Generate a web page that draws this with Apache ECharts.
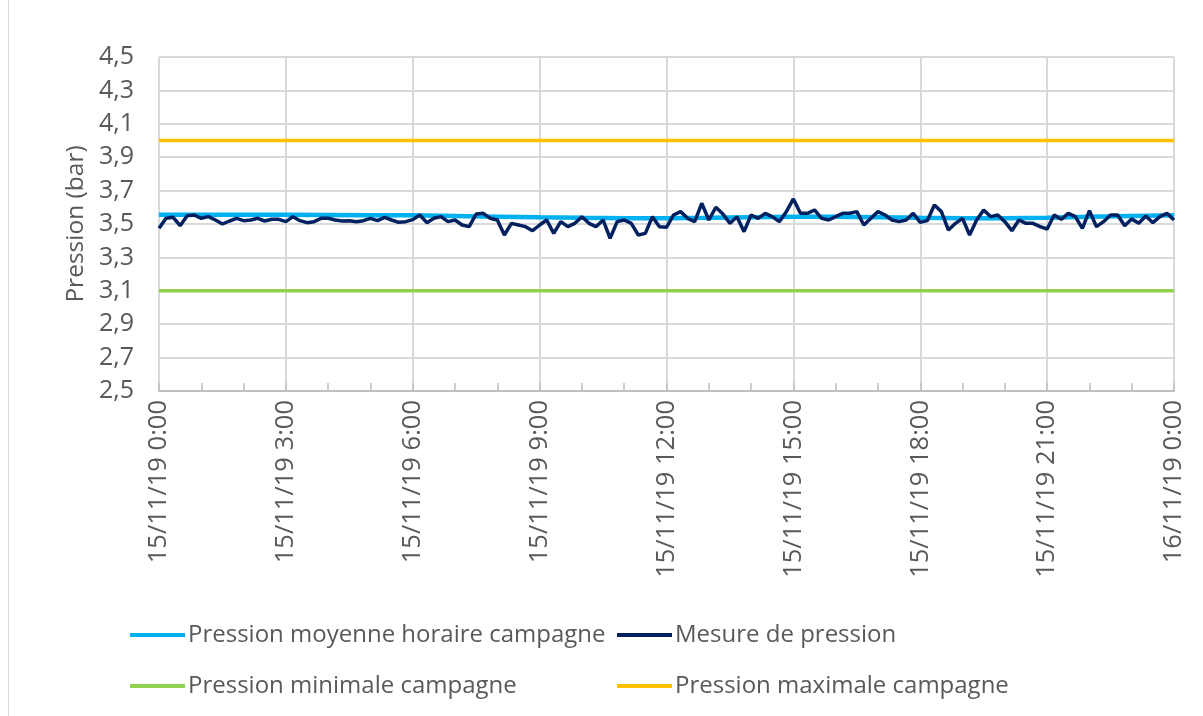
<!DOCTYPE html>
<html><head><meta charset="utf-8">
<script src="https://cdn.jsdelivr.net/npm/echarts@6/dist/echarts.min.js"></script>
<style>html,body{margin:0;padding:0;background:#fff}#c{width:1203px;height:716px}</style>
</head><body><div id="c"></div>
<script>
// Sampling: one measurement every 10 minutes from 15/11/19 0:00 to 16/11/19 0:00
const stepMinutes = 10;
const mesure = [
 3.474,3.534,3.54,3.49,3.55,3.554,3.534,3.544,3.524,3.50,
 3.518,3.534,3.52,3.524,3.534,3.518,3.528,3.528,3.514,3.544,
 3.52,3.508,3.514,3.534,3.534,3.524,3.518,3.52,3.514,3.52,
 3.534,3.52,3.54,3.524,3.51,3.514,3.526,3.554,3.508,3.534,
 3.544,3.514,3.524,3.494,3.484,3.56,3.564,3.534,3.524,3.434,
 3.504,3.494,3.484,3.46,3.494,3.524,3.444,3.514,3.484,3.504,
 3.544,3.504,3.484,3.524,3.414,3.514,3.524,3.504,3.434,3.444,
 3.544,3.484,3.48,3.554,3.574,3.534,3.514,3.624,3.524,3.60,
 3.56,3.504,3.544,3.454,3.554,3.534,3.564,3.544,3.514,3.574,
 3.65,3.564,3.564,3.584,3.534,3.524,3.544,3.564,3.564,3.574,
 3.494,3.534,3.574,3.554,3.524,3.514,3.524,3.564,3.51,3.52,
 3.614,3.574,3.464,3.504,3.534,3.434,3.524,3.584,3.544,3.554,
 3.514,3.46,3.524,3.504,3.504,3.484,3.47,3.554,3.528,3.564,
 3.544,3.474,3.58,3.484,3.514,3.554,3.554,3.49,3.53,3.504,
 3.548,3.508,3.544,3.564,3.524
];
// Hourly mean (0h .. 24h)
const moyenneHoraire = [
 3.556,3.556,3.555,3.555,3.554,3.553,3.552,3.548,3.544,3.54,
 3.537,3.535,3.535,3.537,3.54,3.543,3.543,3.54,3.537,3.535,
 3.535,3.538,3.543,3.548,3.553
];
const pressionMinimale = 3.1;
const pressionMaximale = 4.0;
const xStartHour = 0, xEndHour = 24, xLabelStepHours = 3;
const yMin = 2.5, yMax = 4.5, yStep = 0.2;
const seriesNames = ['Pression moyenne horaire campagne','Mesure de pression','Pression minimale campagne','Pression maximale campagne'];
const seriesColors = ['#00B0F0','#002060','#92D050','#FFC000'];

const mesureData = mesure.map((v,i)=>[i*stepMinutes/60, v]);
const moyData = moyenneHoraire.map((v,i)=>[i, v]);
const minData = [[xStartHour,pressionMinimale],[xEndHour,pressionMinimale]];
const maxData = [[xStartHour,pressionMaximale],[xEndHour,pressionMaximale]];

const FONT = 'Open Sans';
const TXT = '#595959';
function xLabel(h){
  return h < 24 ? '15/11/19 ' + h + ':00' : '16/11/19 0:00';
}
function legendFor(i, left, top){
  return {
    left:left, top:top, padding:0, itemWidth:55, itemHeight:4, icon:'rect', itemGap:0,
    data:[seriesNames[i]], selectedMode:false,
    textStyle:{fontFamily:FONT, fontSize:24, color:TXT, padding:[0,0,0,-2]}
  };
}
const chart = echarts.init(document.getElementById('c'), null, {renderer:'canvas'});
chart.setOption({
  animation:false,
  backgroundColor:'#fff',
  graphic:[{type:'line', shape:{x1:8.5,y1:0,x2:8.5,y2:716}, style:{stroke:'#d9d9d9', lineWidth:1}}],
  grid:{left:159, right:29, top:57, bottom:325, containLabel:false},
  legend:[legendFor(0,130,623), legendFor(1,617,623), legendFor(2,130,674), legendFor(3,617,674)],
  xAxis:{
    type:'value', min:xStartHour, max:xEndHour, interval:xLabelStepHours,
    axisLine:{show:true, lineStyle:{color:'#bfbfbf', width:2}},
    axisTick:{show:true, inside:true, length:8, lineStyle:{color:'#bfbfbf', width:1.5}},
    minorTick:{show:true, splitNumber:3, length:8, lineStyle:{color:'#bfbfbf', width:1.5}},
    splitLine:{show:true, lineStyle:{color:'#d9d9d9', width:2}},
    axisLabel:{rotate:90, margin:9, fontFamily:FONT, fontSize:25.5, color:TXT, formatter:xLabel}
  },
  yAxis:{
    type:'value', min:yMin, max:yMax, interval:yStep,
    name:'Pression (bar)', nameLocation:'middle', nameGap:70, nameRotate:90,
    nameTextStyle:{fontFamily:FONT, fontSize:24.5, color:TXT},
    axisLine:{show:false}, axisTick:{show:false},
    splitLine:{show:true, lineStyle:{color:'#d9d9d9', width:2}},
    axisLabel:{margin:25, fontFamily:FONT, fontSize:25, color:TXT,
      formatter:v=>v.toFixed(1).replace('.', ',')}
  },
  series:[
    {name:seriesNames[0], type:'line', data:moyData, showSymbol:false, color:seriesColors[0], lineStyle:{width:4.5, color:seriesColors[0]}, z:2},
    {name:seriesNames[1], type:'line', data:mesureData, showSymbol:false, color:seriesColors[1], lineStyle:{width:3.5, color:seriesColors[1]}, z:3},
    {name:seriesNames[2], type:'line', data:minData, showSymbol:false, color:seriesColors[2], lineStyle:{width:3.5, color:seriesColors[2]}, z:2},
    {name:seriesNames[3], type:'line', data:maxData, showSymbol:false, color:seriesColors[3], lineStyle:{width:3.5, color:seriesColors[3]}, z:2}
  ]
});
</script></body></html>
